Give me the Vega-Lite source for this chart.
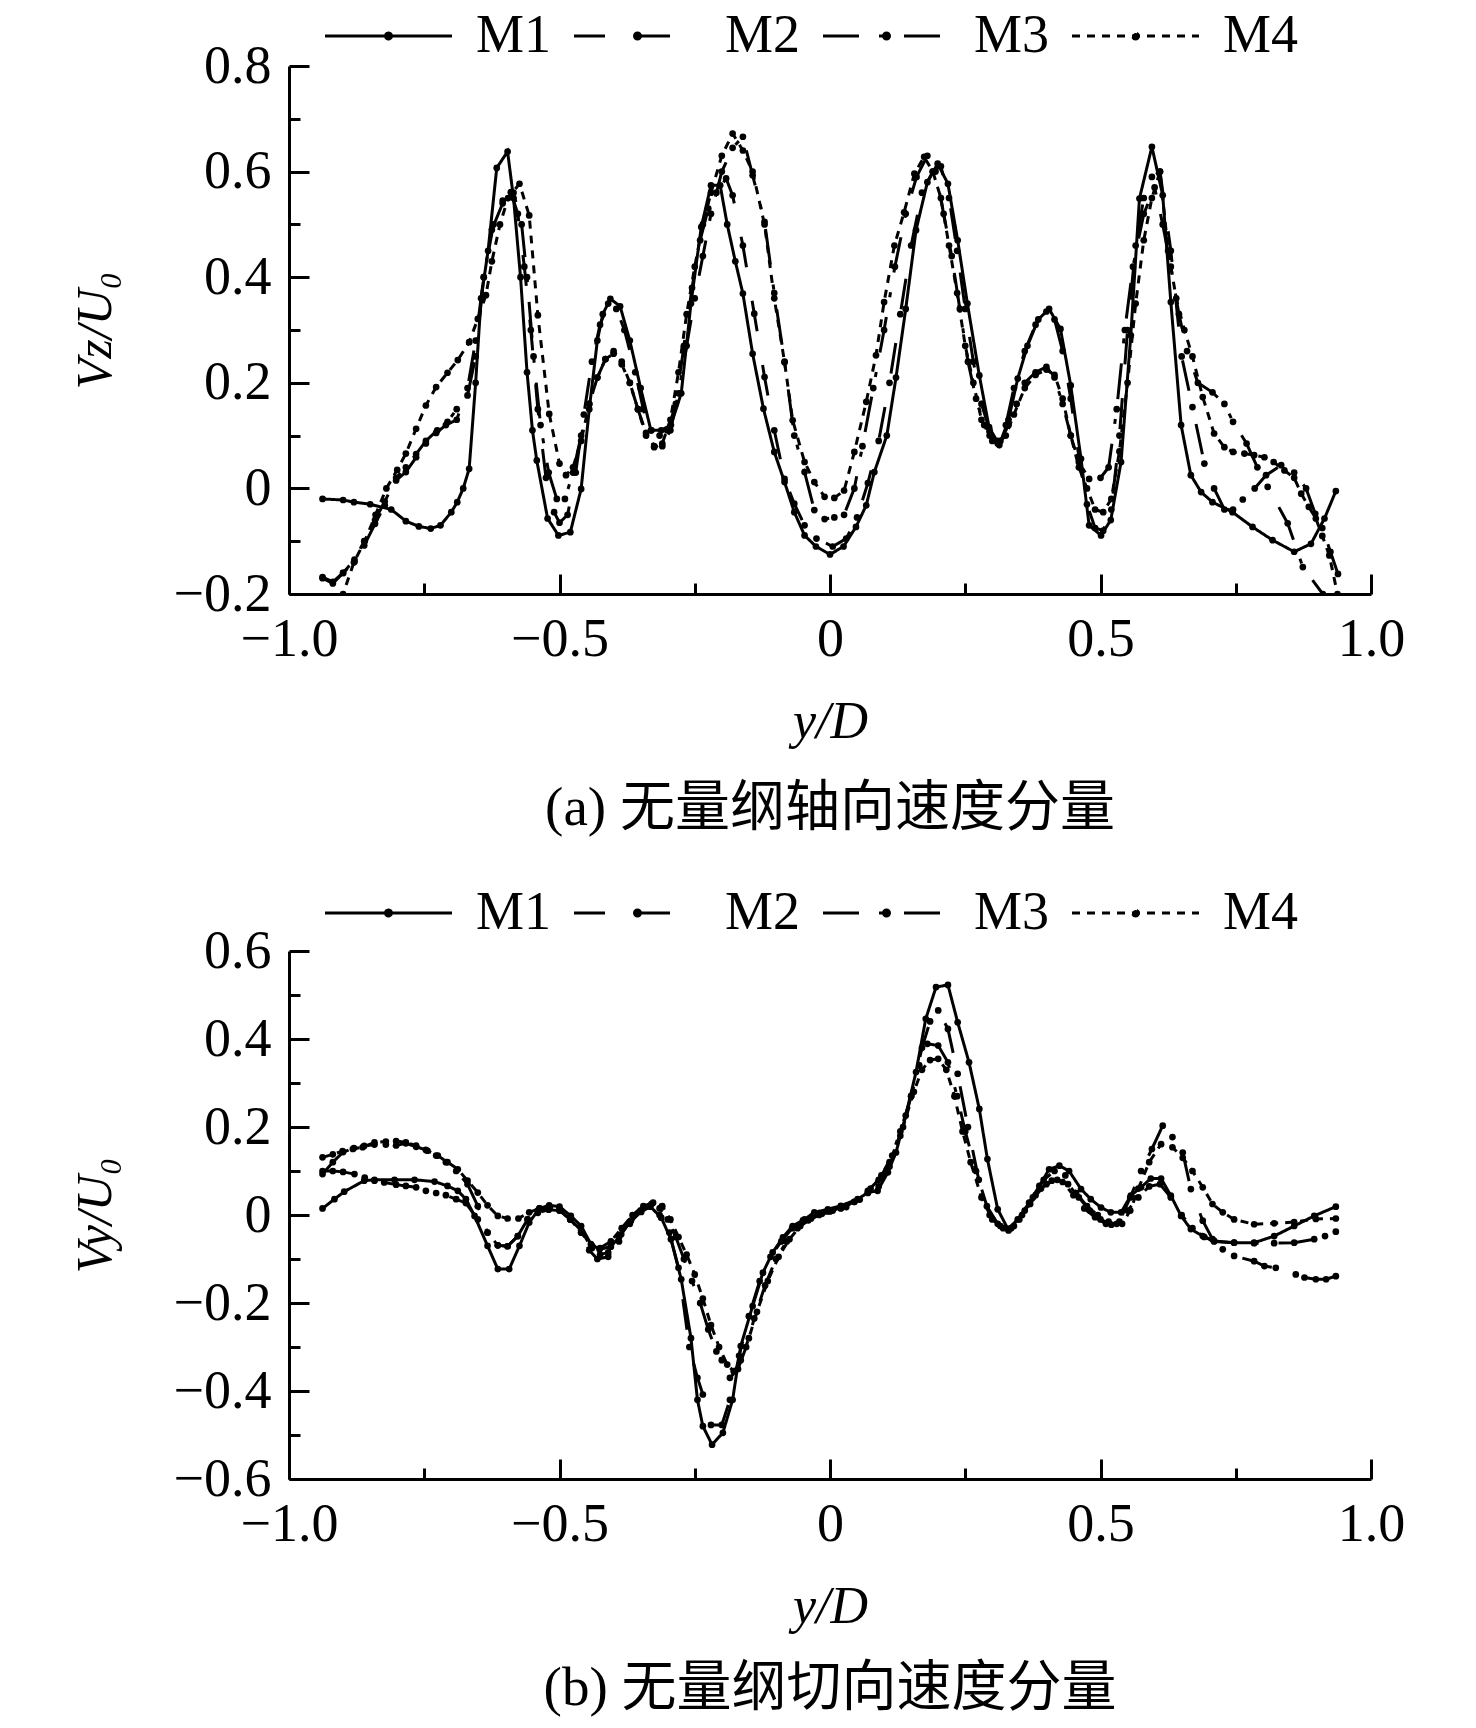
{
"$schema": "https://vega.github.io/schema/vega-lite/v6.json",
"padding": {"left": 70, "top": 9, "right": 10, "bottom": 5},
"background": "white",
"config": {
  "font": "Liberation Serif",
  "view": {"stroke": null},
  "axis": {"domainColor": "black", "domainWidth": 3, "tickColor": "black", "tickWidth": 3, "labelColor": "black", "labelFont": "Liberation Serif", "labelFontSize": 54, "titleFont": "Liberation Serif", "titleFontSize": 52, "titleFontWeight": "normal", "titleFontStyle": "italic", "titleColor": "black", "grid": false, "labelFlush": false, "labelOverlap": false},
  "title": {"font": "Liberation Serif, Noto Sans CJK SC", "fontSize": 55, "fontWeight": "normal", "color": "black"}
},
"datasets": {
"top": [
{"s":"M1","x":-0.938,"y":-0.02},{"s":"M1","x":-0.9,"y":-0.022},{"s":"M1","x":-0.88,"y":-0.026},{"s":"M1","x":-0.85,"y":-0.03},{"s":"M1","x":-0.811,"y":-0.04},{"s":"M1","x":-0.784,"y":-0.062},{"s":"M1","x":-0.76,"y":-0.072},{"s":"M1","x":-0.738,"y":-0.076},{"s":"M1","x":-0.72,"y":-0.07},{"s":"M1","x":-0.7,"y":-0.045},{"s":"M1","x":-0.689,"y":-0.026},{"s":"M1","x":-0.678,"y":0.0},{"s":"M1","x":-0.667,"y":0.037},{"s":"M1","x":-0.655,"y":0.2},{"s":"M1","x":-0.645,"y":0.36},{"s":"M1","x":-0.632,"y":0.45},{"s":"M1","x":-0.616,"y":0.607},{"s":"M1","x":-0.596,"y":0.638},{"s":"M1","x":-0.585,"y":0.55},{"s":"M1","x":-0.572,"y":0.4},{"s":"M1","x":-0.56,"y":0.22},{"s":"M1","x":-0.55,"y":0.11},{"s":"M1","x":-0.542,"y":0.053},{"s":"M1","x":-0.522,"y":-0.057},{"s":"M1","x":-0.502,"y":-0.089},{"s":"M1","x":-0.48,"y":-0.083},{"s":"M1","x":-0.46,"y":-0.001},{"s":"M1","x":-0.445,"y":0.15},{"s":"M1","x":-0.43,"y":0.28},{"s":"M1","x":-0.42,"y":0.33},{"s":"M1","x":-0.406,"y":0.359},{"s":"M1","x":-0.388,"y":0.345},{"s":"M1","x":-0.37,"y":0.28},{"s":"M1","x":-0.35,"y":0.19},{"s":"M1","x":-0.331,"y":0.11},{"s":"M1","x":-0.312,"y":0.11},{"s":"M1","x":-0.294,"y":0.12},{"s":"M1","x":-0.275,"y":0.18},{"s":"M1","x":-0.257,"y":0.35},{"s":"M1","x":-0.238,"y":0.495},{"s":"M1","x":-0.22,"y":0.574},{"s":"M1","x":-0.203,"y":0.574},{"s":"M1","x":-0.19,"y":0.5},{"s":"M1","x":-0.175,"y":0.43},{"s":"M1","x":-0.161,"y":0.369},{"s":"M1","x":-0.143,"y":0.255},{"s":"M1","x":-0.123,"y":0.151},{"s":"M1","x":-0.103,"y":0.069},{"s":"M1","x":-0.084,"y":0.012},{"s":"M1","x":-0.066,"y":-0.045},{"s":"M1","x":-0.047,"y":-0.089},{"s":"M1","x":-0.026,"y":-0.11},{"s":"M1","x":0.0,"y":-0.125},{"s":"M1","x":0.025,"y":-0.11},{"s":"M1","x":0.048,"y":-0.073},{"s":"M1","x":0.067,"y":-0.032},{"s":"M1","x":0.082,"y":0.031},{"s":"M1","x":0.105,"y":0.1},{"s":"M1","x":0.122,"y":0.21},{"s":"M1","x":0.14,"y":0.34},{"s":"M1","x":0.159,"y":0.489},{"s":"M1","x":0.18,"y":0.58},{"s":"M1","x":0.199,"y":0.615},{"s":"M1","x":0.218,"y":0.577},{"s":"M1","x":0.236,"y":0.47},{"s":"M1","x":0.254,"y":0.35},{"s":"M1","x":0.276,"y":0.214},{"s":"M1","x":0.294,"y":0.116},{"s":"M1","x":0.313,"y":0.082},{"s":"M1","x":0.33,"y":0.13},{"s":"M1","x":0.347,"y":0.208},{"s":"M1","x":0.365,"y":0.27},{"s":"M1","x":0.385,"y":0.32},{"s":"M1","x":0.405,"y":0.34},{"s":"M1","x":0.426,"y":0.302},{"s":"M1","x":0.445,"y":0.195},{"s":"M1","x":0.464,"y":0.056},{"s":"M1","x":0.479,"y":-0.07},{"s":"M1","x":0.501,"y":-0.089},{"s":"M1","x":0.519,"y":-0.06},{"s":"M1","x":0.538,"y":0.05},{"s":"M1","x":0.556,"y":0.29},{"s":"M1","x":0.572,"y":0.549},{"s":"M1","x":0.595,"y":0.647},{"s":"M1","x":0.615,"y":0.555},{"s":"M1","x":0.63,"y":0.353},{"s":"M1","x":0.649,"y":0.12},{"s":"M1","x":0.667,"y":0.025},{"s":"M1","x":0.686,"y":-0.007},{"s":"M1","x":0.707,"y":-0.026},{"s":"M1","x":0.744,"y":-0.045},{"s":"M1","x":0.781,"y":-0.073},{"s":"M1","x":0.818,"y":-0.098},{"s":"M1","x":0.858,"y":-0.12},{"s":"M1","x":0.889,"y":-0.105},{"s":"M1","x":0.914,"y":-0.057},{"s":"M1","x":0.935,"y":-0.005},
{"s":"M2","x":-0.938,"y":-0.168},{"s":"M2","x":-0.919,"y":-0.177},{"s":"M2","x":-0.9,"y":-0.16},{"s":"M2","x":-0.879,"y":-0.139},{"s":"M2","x":-0.861,"y":-0.108},{"s":"M2","x":-0.841,"y":-0.067},{"s":"M2","x":-0.823,"y":-0.032},{"s":"M2","x":-0.802,"y":0.015},{"s":"M2","x":-0.784,"y":0.031},{"s":"M2","x":-0.765,"y":0.059},{"s":"M2","x":-0.747,"y":0.085},{"s":"M2","x":-0.728,"y":0.105},{"s":"M2","x":-0.71,"y":0.12},{"s":"M2","x":-0.69,"y":0.13},{"s":"M2","x":-0.67,"y":0.19},{"s":"M2","x":-0.655,"y":0.28},{"s":"M2","x":-0.64,"y":0.4},{"s":"M2","x":-0.622,"y":0.5},{"s":"M2","x":-0.605,"y":0.545},{"s":"M2","x":-0.59,"y":0.561},{"s":"M2","x":-0.577,"y":0.52},{"s":"M2","x":-0.565,"y":0.42},{"s":"M2","x":-0.553,"y":0.3},{"s":"M2","x":-0.54,"y":0.15},{"s":"M2","x":-0.525,"y":0.02},{"s":"M2","x":-0.51,"y":-0.045},{"s":"M2","x":-0.5,"y":-0.065},{"s":"M2","x":-0.485,"y":-0.05},{"s":"M2","x":-0.47,"y":0.03},{"s":"M2","x":-0.455,"y":0.14},{"s":"M2","x":-0.44,"y":0.24},{"s":"M2","x":-0.425,"y":0.31},{"s":"M2","x":-0.41,"y":0.35},{"s":"M2","x":-0.395,"y":0.34},{"s":"M2","x":-0.38,"y":0.3},{"s":"M2","x":-0.36,"y":0.22},{"s":"M2","x":-0.345,"y":0.15},{"s":"M2","x":-0.33,"y":0.11},{"s":"M2","x":-0.315,"y":0.1},{"s":"M2","x":-0.3,"y":0.11},{"s":"M2","x":-0.285,"y":0.16},{"s":"M2","x":-0.27,"y":0.27},{"s":"M2","x":-0.255,"y":0.38},{"s":"M2","x":-0.24,"y":0.47},{"s":"M2","x":-0.225,"y":0.53},{"s":"M2","x":-0.21,"y":0.56},{"s":"M2","x":-0.192,"y":0.587},{"s":"M2","x":-0.18,"y":0.555},{"s":"M2","x":-0.161,"y":0.46},{"s":"M2","x":-0.14,"y":0.331},{"s":"M2","x":-0.121,"y":0.211},{"s":"M2","x":-0.103,"y":0.11},{"s":"M2","x":-0.084,"y":0.018},{"s":"M2","x":-0.066,"y":-0.029},{"s":"M2","x":-0.047,"y":-0.07},{"s":"M2","x":-0.025,"y":-0.095},{"s":"M2","x":0.005,"y":-0.11},{"s":"M2","x":0.03,"y":-0.095},{"s":"M2","x":0.05,"y":-0.055},{"s":"M2","x":0.07,"y":0.01},{"s":"M2","x":0.09,"y":0.09},{"s":"M2","x":0.11,"y":0.2},{"s":"M2","x":0.13,"y":0.33},{"s":"M2","x":0.15,"y":0.46},{"s":"M2","x":0.17,"y":0.56},{"s":"M2","x":0.19,"y":0.6},{"s":"M2","x":0.205,"y":0.61},{"s":"M2","x":0.22,"y":0.55},{"s":"M2","x":0.235,"y":0.45},{"s":"M2","x":0.25,"y":0.34},{"s":"M2","x":0.265,"y":0.24},{"s":"M2","x":0.28,"y":0.16},{"s":"M2","x":0.295,"y":0.11},{"s":"M2","x":0.31,"y":0.09},{"s":"M2","x":0.325,"y":0.12},{"s":"M2","x":0.34,"y":0.19},{"s":"M2","x":0.36,"y":0.26},{"s":"M2","x":0.38,"y":0.31},{"s":"M2","x":0.4,"y":0.335},{"s":"M2","x":0.415,"y":0.32},{"s":"M2","x":0.43,"y":0.26},{"s":"M2","x":0.445,"y":0.17},{"s":"M2","x":0.46,"y":0.06},{"s":"M2","x":0.475,"y":-0.03},{"s":"M2","x":0.49,"y":-0.075},{"s":"M2","x":0.505,"y":-0.08},{"s":"M2","x":0.52,"y":-0.04},{"s":"M2","x":0.535,"y":0.1},{"s":"M2","x":0.55,"y":0.3},{"s":"M2","x":0.565,"y":0.46},{"s":"M2","x":0.58,"y":0.55},{"s":"M2","x":0.595,"y":0.59},{"s":"M2","x":0.61,"y":0.6},{"s":"M2","x":0.63,"y":0.45},{"s":"M2","x":0.65,"y":0.25},{"s":"M2","x":0.67,"y":0.154},{"s":"M2","x":0.692,"y":0.047},{"s":"M2","x":0.71,"y":0.0},{"s":"M2","x":0.729,"y":-0.04},{"s":"M2","x":0.745,"y":-0.04},{"s":"M2","x":0.763,"y":-0.021},{"s":"M2","x":0.785,"y":0.0},{"s":"M2","x":0.806,"y":0.025},{"s":"M2","x":0.834,"y":0.044},{"s":"M2","x":0.858,"y":0.03},{"s":"M2","x":0.88,"y":0.0},{"s":"M2","x":0.897,"y":-0.048},{"s":"M2","x":0.91,"y":-0.075},{"s":"M2","x":0.925,"y":-0.12},{"s":"M2","x":0.939,"y":-0.162},
{"s":"M3","x":-0.938,"y":-0.17},{"s":"M3","x":-0.919,"y":-0.18},{"s":"M3","x":-0.9,"y":-0.16},{"s":"M3","x":-0.879,"y":-0.135},{"s":"M3","x":-0.861,"y":-0.1},{"s":"M3","x":-0.841,"y":-0.06},{"s":"M3","x":-0.823,"y":-0.025},{"s":"M3","x":-0.802,"y":0.02},{"s":"M3","x":-0.784,"y":0.04},{"s":"M3","x":-0.765,"y":0.065},{"s":"M3","x":-0.747,"y":0.09},{"s":"M3","x":-0.726,"y":0.11},{"s":"M3","x":-0.707,"y":0.126},{"s":"M3","x":-0.69,"y":0.15},{"s":"M3","x":-0.67,"y":0.176},{"s":"M3","x":-0.655,"y":0.25},{"s":"M3","x":-0.64,"y":0.4},{"s":"M3","x":-0.625,"y":0.49},{"s":"M3","x":-0.605,"y":0.54},{"s":"M3","x":-0.585,"y":0.56},{"s":"M3","x":-0.57,"y":0.5},{"s":"M3","x":-0.56,"y":0.4},{"s":"M3","x":-0.548,"y":0.25},{"s":"M3","x":-0.535,"y":0.12},{"s":"M3","x":-0.52,"y":0.03},{"s":"M3","x":-0.505,"y":-0.02},{"s":"M3","x":-0.49,"y":-0.02},{"s":"M3","x":-0.475,"y":0.03},{"s":"M3","x":-0.46,"y":0.1},{"s":"M3","x":-0.445,"y":0.16},{"s":"M3","x":-0.43,"y":0.21},{"s":"M3","x":-0.415,"y":0.245},{"s":"M3","x":-0.4,"y":0.255},{"s":"M3","x":-0.385,"y":0.235},{"s":"M3","x":-0.37,"y":0.2},{"s":"M3","x":-0.355,"y":0.15},{"s":"M3","x":-0.34,"y":0.105},{"s":"M3","x":-0.325,"y":0.08},{"s":"M3","x":-0.31,"y":0.08},{"s":"M3","x":-0.295,"y":0.11},{"s":"M3","x":-0.28,"y":0.18},{"s":"M3","x":-0.265,"y":0.27},{"s":"M3","x":-0.25,"y":0.36},{"s":"M3","x":-0.235,"y":0.44},{"s":"M3","x":-0.22,"y":0.52},{"s":"M3","x":-0.2,"y":0.6},{"s":"M3","x":-0.18,"y":0.645},{"s":"M3","x":-0.161,"y":0.666},{"s":"M3","x":-0.143,"y":0.593},{"s":"M3","x":-0.121,"y":0.505},{"s":"M3","x":-0.103,"y":0.37},{"s":"M3","x":-0.084,"y":0.24},{"s":"M3","x":-0.066,"y":0.1},{"s":"M3","x":-0.047,"y":0.031},{"s":"M3","x":-0.029,"y":-0.041},{"s":"M3","x":-0.01,"y":-0.058},{"s":"M3","x":0.008,"y":-0.055},{"s":"M3","x":0.026,"y":-0.05},{"s":"M3","x":0.045,"y":0.0},{"s":"M3","x":0.06,"y":0.08},{"s":"M3","x":0.08,"y":0.19},{"s":"M3","x":0.1,"y":0.3},{"s":"M3","x":0.12,"y":0.42},{"s":"M3","x":0.14,"y":0.52},{"s":"M3","x":0.16,"y":0.59},{"s":"M3","x":0.18,"y":0.63},{"s":"M3","x":0.195,"y":0.6},{"s":"M3","x":0.21,"y":0.52},{"s":"M3","x":0.225,"y":0.44},{"s":"M3","x":0.24,"y":0.34},{"s":"M3","x":0.255,"y":0.24},{"s":"M3","x":0.27,"y":0.17},{"s":"M3","x":0.285,"y":0.12},{"s":"M3","x":0.3,"y":0.09},{"s":"M3","x":0.315,"y":0.09},{"s":"M3","x":0.33,"y":0.12},{"s":"M3","x":0.345,"y":0.16},{"s":"M3","x":0.36,"y":0.2},{"s":"M3","x":0.38,"y":0.22},{"s":"M3","x":0.4,"y":0.23},{"s":"M3","x":0.415,"y":0.21},{"s":"M3","x":0.43,"y":0.16},{"s":"M3","x":0.445,"y":0.1},{"s":"M3","x":0.46,"y":0.05},{"s":"M3","x":0.479,"y":0.018},{"s":"M3","x":0.5,"y":0.02},{"s":"M3","x":0.515,"y":0.04},{"s":"M3","x":0.53,"y":0.15},{"s":"M3","x":0.545,"y":0.3},{"s":"M3","x":0.56,"y":0.42},{"s":"M3","x":0.58,"y":0.52},{"s":"M3","x":0.6,"y":0.57},{"s":"M3","x":0.615,"y":0.5},{"s":"M3","x":0.63,"y":0.42},{"s":"M3","x":0.645,"y":0.33},{"s":"M3","x":0.66,"y":0.26},{"s":"M3","x":0.68,"y":0.2},{"s":"M3","x":0.707,"y":0.182},{"s":"M3","x":0.729,"y":0.16},{"s":"M3","x":0.745,"y":0.126},{"s":"M3","x":0.77,"y":0.085},{"s":"M3","x":0.79,"y":0.04},{"s":"M3","x":0.809,"y":0.003},{"s":"M3","x":0.846,"y":-0.066},{"s":"M3","x":0.874,"y":-0.149},{"s":"M3","x":0.911,"y":-0.2},{"s":"M3","x":0.925,"y":-0.23},
{"s":"M4","x":-0.93,"y":-0.26},{"s":"M4","x":-0.9,"y":-0.2},{"s":"M4","x":-0.88,"y":-0.14},{"s":"M4","x":-0.86,"y":-0.1},{"s":"M4","x":-0.84,"y":-0.05},{"s":"M4","x":-0.82,"y":0.0},{"s":"M4","x":-0.8,"y":0.035},{"s":"M4","x":-0.784,"y":0.066},{"s":"M4","x":-0.765,"y":0.113},{"s":"M4","x":-0.747,"y":0.157},{"s":"M4","x":-0.728,"y":0.192},{"s":"M4","x":-0.707,"y":0.219},{"s":"M4","x":-0.688,"y":0.243},{"s":"M4","x":-0.667,"y":0.277},{"s":"M4","x":-0.651,"y":0.321},{"s":"M4","x":-0.636,"y":0.366},{"s":"M4","x":-0.625,"y":0.43},{"s":"M4","x":-0.61,"y":0.5},{"s":"M4","x":-0.595,"y":0.55},{"s":"M4","x":-0.574,"y":0.577},{"s":"M4","x":-0.556,"y":0.517},{"s":"M4","x":-0.54,"y":0.328},{"s":"M4","x":-0.519,"y":0.141},{"s":"M4","x":-0.5,"y":0.047},{"s":"M4","x":-0.488,"y":0.025},{"s":"M4","x":-0.475,"y":0.04},{"s":"M4","x":-0.46,"y":0.09},{"s":"M4","x":-0.445,"y":0.16},{"s":"M4","x":-0.43,"y":0.21},{"s":"M4","x":-0.415,"y":0.245},{"s":"M4","x":-0.4,"y":0.26},{"s":"M4","x":-0.385,"y":0.24},{"s":"M4","x":-0.37,"y":0.2},{"s":"M4","x":-0.355,"y":0.15},{"s":"M4","x":-0.34,"y":0.1},{"s":"M4","x":-0.325,"y":0.078},{"s":"M4","x":-0.31,"y":0.085},{"s":"M4","x":-0.295,"y":0.13},{"s":"M4","x":-0.28,"y":0.22},{"s":"M4","x":-0.265,"y":0.33},{"s":"M4","x":-0.25,"y":0.42},{"s":"M4","x":-0.235,"y":0.5},{"s":"M4","x":-0.22,"y":0.56},{"s":"M4","x":-0.2,"y":0.63},{"s":"M4","x":-0.18,"y":0.672},{"s":"M4","x":-0.161,"y":0.64},{"s":"M4","x":-0.143,"y":0.6},{"s":"M4","x":-0.121,"y":0.5},{"s":"M4","x":-0.103,"y":0.36},{"s":"M4","x":-0.084,"y":0.239},{"s":"M4","x":-0.069,"y":0.129},{"s":"M4","x":-0.047,"y":0.05},{"s":"M4","x":-0.029,"y":0.012},{"s":"M4","x":-0.01,"y":-0.016},{"s":"M4","x":0.008,"y":-0.018},{"s":"M4","x":0.026,"y":-0.004},{"s":"M4","x":0.045,"y":0.069},{"s":"M4","x":0.067,"y":0.164},{"s":"M4","x":0.085,"y":0.252},{"s":"M4","x":0.1,"y":0.353},{"s":"M4","x":0.119,"y":0.46},{"s":"M4","x":0.137,"y":0.523},{"s":"M4","x":0.156,"y":0.596},{"s":"M4","x":0.174,"y":0.628},{"s":"M4","x":0.19,"y":0.6},{"s":"M4","x":0.205,"y":0.55},{"s":"M4","x":0.22,"y":0.46},{"s":"M4","x":0.235,"y":0.37},{"s":"M4","x":0.25,"y":0.27},{"s":"M4","x":0.265,"y":0.2},{"s":"M4","x":0.28,"y":0.13},{"s":"M4","x":0.295,"y":0.1},{"s":"M4","x":0.31,"y":0.085},{"s":"M4","x":0.325,"y":0.1},{"s":"M4","x":0.34,"y":0.14},{"s":"M4","x":0.36,"y":0.19},{"s":"M4","x":0.38,"y":0.215},{"s":"M4","x":0.4,"y":0.225},{"s":"M4","x":0.415,"y":0.215},{"s":"M4","x":0.43,"y":0.17},{"s":"M4","x":0.445,"y":0.1},{"s":"M4","x":0.46,"y":0.04},{"s":"M4","x":0.475,"y":0.0},{"s":"M4","x":0.49,"y":-0.04},{"s":"M4","x":0.505,"y":-0.045},{"s":"M4","x":0.52,"y":-0.02},{"s":"M4","x":0.535,"y":0.07},{"s":"M4","x":0.55,"y":0.2},{"s":"M4","x":0.565,"y":0.35},{"s":"M4","x":0.58,"y":0.47},{"s":"M4","x":0.595,"y":0.55},{"s":"M4","x":0.61,"y":0.6},{"s":"M4","x":0.625,"y":0.45},{"s":"M4","x":0.64,"y":0.36},{"s":"M4","x":0.655,"y":0.3},{"s":"M4","x":0.67,"y":0.25},{"s":"M4","x":0.689,"y":0.173},{"s":"M4","x":0.71,"y":0.104},{"s":"M4","x":0.729,"y":0.078},{"s":"M4","x":0.745,"y":0.069},{"s":"M4","x":0.766,"y":0.066},{"s":"M4","x":0.784,"y":0.063},{"s":"M4","x":0.803,"y":0.059},{"s":"M4","x":0.82,"y":0.05},{"s":"M4","x":0.84,"y":0.034},{"s":"M4","x":0.858,"y":0.02},{"s":"M4","x":0.871,"y":-0.01},{"s":"M4","x":0.885,"y":-0.035},{"s":"M4","x":0.898,"y":-0.057},{"s":"M4","x":0.91,"y":-0.09},{"s":"M4","x":0.923,"y":-0.127},{"s":"M4","x":0.938,"y":-0.2}
],
"bot": [
{"s":"M1","x":-0.938,"y":0.015},{"s":"M1","x":-0.916,"y":0.036},{"s":"M1","x":-0.898,"y":0.053},{"s":"M1","x":-0.861,"y":0.078},{"s":"M1","x":-0.842,"y":0.08},{"s":"M1","x":-0.805,"y":0.08},{"s":"M1","x":-0.768,"y":0.08},{"s":"M1","x":-0.731,"y":0.076},{"s":"M1","x":-0.707,"y":0.066},{"s":"M1","x":-0.688,"y":0.055},{"s":"M1","x":-0.673,"y":0.036},{"s":"M1","x":-0.657,"y":-0.002},{"s":"M1","x":-0.633,"y":-0.07},{"s":"M1","x":-0.614,"y":-0.123},{"s":"M1","x":-0.593,"y":-0.123},{"s":"M1","x":-0.574,"y":-0.07},{"s":"M1","x":-0.556,"y":-0.017},{"s":"M1","x":-0.537,"y":0.015},{"s":"M1","x":-0.519,"y":0.022},{"s":"M1","x":-0.5,"y":0.019},{"s":"M1","x":-0.479,"y":-0.002},{"s":"M1","x":-0.46,"y":-0.025},{"s":"M1","x":-0.442,"y":-0.066},{"s":"M1","x":-0.426,"y":-0.078},{"s":"M1","x":-0.405,"y":-0.072},{"s":"M1","x":-0.386,"y":-0.044},{"s":"M1","x":-0.368,"y":-0.013},{"s":"M1","x":-0.349,"y":0.007},{"s":"M1","x":-0.332,"y":0.019},{"s":"M1","x":-0.312,"y":-0.006},{"s":"M1","x":-0.294,"y":-0.055},{"s":"M1","x":-0.275,"y":-0.146},{"s":"M1","x":-0.257,"y":-0.28},{"s":"M1","x":-0.245,"y":-0.42},{"s":"M1","x":-0.235,"y":-0.48},{"s":"M1","x":-0.218,"y":-0.522},{"s":"M1","x":-0.198,"y":-0.495},{"s":"M1","x":-0.18,"y":-0.42},{"s":"M1","x":-0.165,"y":-0.298},{"s":"M1","x":-0.143,"y":-0.207},{"s":"M1","x":-0.124,"y":-0.131},{"s":"M1","x":-0.106,"y":-0.085},{"s":"M1","x":-0.087,"y":-0.051},{"s":"M1","x":-0.069,"y":-0.025},{"s":"M1","x":-0.047,"y":-0.01},{"s":"M1","x":-0.029,"y":0.006},{"s":"M1","x":-0.004,"y":0.013},{"s":"M1","x":0.02,"y":0.021},{"s":"M1","x":0.051,"y":0.036},{"s":"M1","x":0.07,"y":0.051},{"s":"M1","x":0.088,"y":0.055},{"s":"M1","x":0.107,"y":0.097},{"s":"M1","x":0.122,"y":0.142},{"s":"M1","x":0.14,"y":0.226},{"s":"M1","x":0.159,"y":0.325},{"s":"M1","x":0.177,"y":0.446},{"s":"M1","x":0.196,"y":0.518},{"s":"M1","x":0.218,"y":0.523},{"s":"M1","x":0.236,"y":0.438},{"s":"M1","x":0.257,"y":0.347},{"s":"M1","x":0.276,"y":0.241},{"s":"M1","x":0.291,"y":0.127},{"s":"M1","x":0.31,"y":0.013},{"s":"M1","x":0.329,"y":-0.032},{"s":"M1","x":0.347,"y":-0.01},{"s":"M1","x":0.368,"y":0.028},{"s":"M1","x":0.387,"y":0.066},{"s":"M1","x":0.405,"y":0.104},{"s":"M1","x":0.424,"y":0.112},{"s":"M1","x":0.442,"y":0.1},{"s":"M1","x":0.464,"y":0.059},{"s":"M1","x":0.482,"y":0.036},{"s":"M1","x":0.501,"y":0.017},{"s":"M1","x":0.519,"y":0.006},{"s":"M1","x":0.538,"y":0.006},{"s":"M1","x":0.556,"y":0.044},{"s":"M1","x":0.575,"y":0.063},{"s":"M1","x":0.593,"y":0.083},{"s":"M1","x":0.612,"y":0.083},{"s":"M1","x":0.63,"y":0.044},{"s":"M1","x":0.649,"y":-0.002},{"s":"M1","x":0.667,"y":-0.032},{"s":"M1","x":0.689,"y":-0.048},{"s":"M1","x":0.71,"y":-0.059},{"s":"M1","x":0.747,"y":-0.063},{"s":"M1","x":0.784,"y":-0.063},{"s":"M1","x":0.821,"y":-0.048},{"s":"M1","x":0.858,"y":-0.025},{"s":"M1","x":0.895,"y":-0.002},{"s":"M1","x":0.935,"y":0.019},
{"s":"M2","x":-0.938,"y":0.1},{"s":"M2","x":-0.919,"y":0.1},{"s":"M2","x":-0.9,"y":0.098},{"s":"M2","x":-0.879,"y":0.093},{"s":"M2","x":-0.86,"y":0.085},{"s":"M2","x":-0.842,"y":0.078},{"s":"M2","x":-0.824,"y":0.074},{"s":"M2","x":-0.802,"y":0.069},{"s":"M2","x":-0.784,"y":0.066},{"s":"M2","x":-0.765,"y":0.063},{"s":"M2","x":-0.747,"y":0.055},{"s":"M2","x":-0.728,"y":0.05},{"s":"M2","x":-0.71,"y":0.045},{"s":"M2","x":-0.691,"y":0.036},{"s":"M2","x":-0.673,"y":0.027},{"s":"M2","x":-0.651,"y":-0.01},{"s":"M2","x":-0.633,"y":-0.04},{"s":"M2","x":-0.614,"y":-0.069},{"s":"M2","x":-0.596,"y":-0.071},{"s":"M2","x":-0.577,"y":-0.048},{"s":"M2","x":-0.559,"y":-0.01},{"s":"M2","x":-0.54,"y":0.005},{"s":"M2","x":-0.52,"y":0.012},{"s":"M2","x":-0.5,"y":0.01},{"s":"M2","x":-0.48,"y":-0.01},{"s":"M2","x":-0.46,"y":-0.04},{"s":"M2","x":-0.445,"y":-0.08},{"s":"M2","x":-0.43,"y":-0.1},{"s":"M2","x":-0.41,"y":-0.095},{"s":"M2","x":-0.39,"y":-0.06},{"s":"M2","x":-0.37,"y":-0.02},{"s":"M2","x":-0.35,"y":0.01},{"s":"M2","x":-0.333,"y":0.02},{"s":"M2","x":-0.315,"y":0.0},{"s":"M2","x":-0.297,"y":-0.04},{"s":"M2","x":-0.28,"y":-0.12},{"s":"M2","x":-0.26,"y":-0.3},{"s":"M2","x":-0.245,"y":-0.37},{"s":"M2","x":-0.235,"y":-0.408},{"s":"M2","x":-0.22,"y":-0.477},{"s":"M2","x":-0.2,"y":-0.477},{"s":"M2","x":-0.185,"y":-0.42},{"s":"M2","x":-0.168,"y":-0.32},{"s":"M2","x":-0.15,"y":-0.23},{"s":"M2","x":-0.13,"y":-0.15},{"s":"M2","x":-0.11,"y":-0.095},{"s":"M2","x":-0.09,"y":-0.06},{"s":"M2","x":-0.07,"y":-0.03},{"s":"M2","x":-0.05,"y":-0.012},{"s":"M2","x":-0.03,"y":0.0},{"s":"M2","x":-0.005,"y":0.008},{"s":"M2","x":0.02,"y":0.016},{"s":"M2","x":0.045,"y":0.03},{"s":"M2","x":0.07,"y":0.05},{"s":"M2","x":0.09,"y":0.065},{"s":"M2","x":0.11,"y":0.11},{"s":"M2","x":0.13,"y":0.18},{"s":"M2","x":0.15,"y":0.27},{"s":"M2","x":0.17,"y":0.38},{"s":"M2","x":0.185,"y":0.44},{"s":"M2","x":0.2,"y":0.465},{"s":"M2","x":0.218,"y":0.423},{"s":"M2","x":0.236,"y":0.321},{"s":"M2","x":0.255,"y":0.2},{"s":"M2","x":0.275,"y":0.08},{"s":"M2","x":0.295,"y":0.0},{"s":"M2","x":0.315,"y":-0.025},{"s":"M2","x":0.335,"y":-0.03},{"s":"M2","x":0.355,"y":0.0},{"s":"M2","x":0.375,"y":0.04},{"s":"M2","x":0.395,"y":0.08},{"s":"M2","x":0.415,"y":0.1},{"s":"M2","x":0.435,"y":0.09},{"s":"M2","x":0.455,"y":0.05},{"s":"M2","x":0.475,"y":0.02},{"s":"M2","x":0.495,"y":0.0},{"s":"M2","x":0.515,"y":-0.015},{"s":"M2","x":0.535,"y":-0.015},{"s":"M2","x":0.555,"y":0.04},{"s":"M2","x":0.575,"y":0.1},{"s":"M2","x":0.595,"y":0.15},{"s":"M2","x":0.615,"y":0.203},{"s":"M2","x":0.633,"y":0.177},{"s":"M2","x":0.652,"y":0.142},{"s":"M2","x":0.667,"y":0.059},{"s":"M2","x":0.689,"y":-0.013},{"s":"M2","x":0.707,"y":-0.055},{"s":"M2","x":0.726,"y":-0.078},{"s":"M2","x":0.747,"y":-0.093},{"s":"M2","x":0.784,"y":-0.105},{"s":"M2","x":0.803,"y":-0.116},{"s":"M2","x":0.824,"y":-0.12},{"s":"M2","x":0.861,"y":-0.135},{"s":"M2","x":0.877,"y":-0.142},{"s":"M2","x":0.898,"y":-0.146},{"s":"M2","x":0.917,"y":-0.146},{"s":"M2","x":0.935,"y":-0.139},
{"s":"M3","x":-0.938,"y":0.093},{"s":"M3","x":-0.919,"y":0.12},{"s":"M3","x":-0.9,"y":0.143},{"s":"M3","x":-0.88,"y":0.152},{"s":"M3","x":-0.861,"y":0.157},{"s":"M3","x":-0.842,"y":0.16},{"s":"M3","x":-0.821,"y":0.16},{"s":"M3","x":-0.802,"y":0.158},{"s":"M3","x":-0.784,"y":0.163},{"s":"M3","x":-0.765,"y":0.155},{"s":"M3","x":-0.747,"y":0.148},{"s":"M3","x":-0.728,"y":0.135},{"s":"M3","x":-0.71,"y":0.12},{"s":"M3","x":-0.691,"y":0.1},{"s":"M3","x":-0.67,"y":0.07},{"s":"M3","x":-0.651,"y":0.02},{"s":"M3","x":-0.633,"y":-0.04},{"s":"M3","x":-0.614,"y":-0.069},{"s":"M3","x":-0.596,"y":-0.071},{"s":"M3","x":-0.577,"y":-0.048},{"s":"M3","x":-0.559,"y":-0.01},{"s":"M3","x":-0.54,"y":0.01},{"s":"M3","x":-0.52,"y":0.015},{"s":"M3","x":-0.5,"y":0.01},{"s":"M3","x":-0.48,"y":-0.01},{"s":"M3","x":-0.46,"y":-0.035},{"s":"M3","x":-0.44,"y":-0.075},{"s":"M3","x":-0.425,"y":-0.09},{"s":"M3","x":-0.41,"y":-0.085},{"s":"M3","x":-0.39,"y":-0.05},{"s":"M3","x":-0.37,"y":-0.015},{"s":"M3","x":-0.35,"y":0.01},{"s":"M3","x":-0.33,"y":0.025},{"s":"M3","x":-0.315,"y":0.015},{"s":"M3","x":-0.3,"y":-0.01},{"s":"M3","x":-0.285,"y":-0.05},{"s":"M3","x":-0.27,"y":-0.1},{"s":"M3","x":-0.255,"y":-0.15},{"s":"M3","x":-0.24,"y":-0.2},{"s":"M3","x":-0.225,"y":-0.26},{"s":"M3","x":-0.21,"y":-0.31},{"s":"M3","x":-0.2,"y":-0.33},{"s":"M3","x":-0.185,"y":-0.37},{"s":"M3","x":-0.17,"y":-0.35},{"s":"M3","x":-0.155,"y":-0.3},{"s":"M3","x":-0.14,"y":-0.235},{"s":"M3","x":-0.12,"y":-0.16},{"s":"M3","x":-0.1,"y":-0.1},{"s":"M3","x":-0.08,"y":-0.06},{"s":"M3","x":-0.06,"y":-0.03},{"s":"M3","x":-0.04,"y":-0.012},{"s":"M3","x":-0.02,"y":0.0},{"s":"M3","x":0.0,"y":0.008},{"s":"M3","x":0.02,"y":0.015},{"s":"M3","x":0.045,"y":0.03},{"s":"M3","x":0.07,"y":0.055},{"s":"M3","x":0.09,"y":0.08},{"s":"M3","x":0.11,"y":0.12},{"s":"M3","x":0.13,"y":0.19},{"s":"M3","x":0.15,"y":0.27},{"s":"M3","x":0.165,"y":0.34},{"s":"M3","x":0.18,"y":0.389},{"s":"M3","x":0.2,"y":0.385},{"s":"M3","x":0.218,"y":0.347},{"s":"M3","x":0.235,"y":0.27},{"s":"M3","x":0.25,"y":0.19},{"s":"M3","x":0.27,"y":0.1},{"s":"M3","x":0.29,"y":0.02},{"s":"M3","x":0.31,"y":-0.02},{"s":"M3","x":0.33,"y":-0.035},{"s":"M3","x":0.35,"y":-0.01},{"s":"M3","x":0.37,"y":0.025},{"s":"M3","x":0.39,"y":0.06},{"s":"M3","x":0.41,"y":0.078},{"s":"M3","x":0.43,"y":0.075},{"s":"M3","x":0.45,"y":0.045},{"s":"M3","x":0.47,"y":0.015},{"s":"M3","x":0.49,"y":-0.005},{"s":"M3","x":0.51,"y":-0.02},{"s":"M3","x":0.53,"y":-0.02},{"s":"M3","x":0.55,"y":0.01},{"s":"M3","x":0.57,"y":0.04},{"s":"M3","x":0.59,"y":0.065},{"s":"M3","x":0.61,"y":0.07},{"s":"M3","x":0.63,"y":0.04},{"s":"M3","x":0.65,"y":0.0},{"s":"M3","x":0.67,"y":-0.03},{"s":"M3","x":0.692,"y":-0.05},{"s":"M3","x":0.71,"y":-0.06},{"s":"M3","x":0.747,"y":-0.063},{"s":"M3","x":0.784,"y":-0.064},{"s":"M3","x":0.821,"y":-0.064},{"s":"M3","x":0.858,"y":-0.063},{"s":"M3","x":0.895,"y":-0.055},{"s":"M3","x":0.915,"y":-0.048},{"s":"M3","x":0.935,"y":-0.038},
{"s":"M4","x":-0.938,"y":0.131},{"s":"M4","x":-0.919,"y":0.138},{"s":"M4","x":-0.901,"y":0.145},{"s":"M4","x":-0.882,"y":0.15},{"s":"M4","x":-0.864,"y":0.154},{"s":"M4","x":-0.842,"y":0.165},{"s":"M4","x":-0.821,"y":0.167},{"s":"M4","x":-0.802,"y":0.168},{"s":"M4","x":-0.784,"y":0.165},{"s":"M4","x":-0.765,"y":0.158},{"s":"M4","x":-0.744,"y":0.146},{"s":"M4","x":-0.725,"y":0.135},{"s":"M4","x":-0.707,"y":0.12},{"s":"M4","x":-0.688,"y":0.104},{"s":"M4","x":-0.67,"y":0.078},{"s":"M4","x":-0.651,"y":0.051},{"s":"M4","x":-0.633,"y":0.022},{"s":"M4","x":-0.614,"y":-0.002},{"s":"M4","x":-0.596,"y":-0.008},{"s":"M4","x":-0.576,"y":-0.008},{"s":"M4","x":-0.556,"y":0.006},{"s":"M4","x":-0.537,"y":0.015},{"s":"M4","x":-0.518,"y":0.017},{"s":"M4","x":-0.5,"y":0.012},{"s":"M4","x":-0.48,"y":-0.01},{"s":"M4","x":-0.46,"y":-0.04},{"s":"M4","x":-0.44,"y":-0.07},{"s":"M4","x":-0.425,"y":-0.075},{"s":"M4","x":-0.405,"y":-0.06},{"s":"M4","x":-0.385,"y":-0.03},{"s":"M4","x":-0.365,"y":0.0},{"s":"M4","x":-0.345,"y":0.02},{"s":"M4","x":-0.327,"y":0.028},{"s":"M4","x":-0.31,"y":0.02},{"s":"M4","x":-0.295,"y":-0.01},{"s":"M4","x":-0.28,"y":-0.05},{"s":"M4","x":-0.265,"y":-0.09},{"s":"M4","x":-0.25,"y":-0.135},{"s":"M4","x":-0.235,"y":-0.19},{"s":"M4","x":-0.22,"y":-0.25},{"s":"M4","x":-0.205,"y":-0.3},{"s":"M4","x":-0.19,"y":-0.34},{"s":"M4","x":-0.178,"y":-0.355},{"s":"M4","x":-0.165,"y":-0.33},{"s":"M4","x":-0.15,"y":-0.28},{"s":"M4","x":-0.135,"y":-0.22},{"s":"M4","x":-0.115,"y":-0.15},{"s":"M4","x":-0.095,"y":-0.095},{"s":"M4","x":-0.075,"y":-0.055},{"s":"M4","x":-0.055,"y":-0.025},{"s":"M4","x":-0.035,"y":-0.008},{"s":"M4","x":-0.015,"y":0.003},{"s":"M4","x":0.005,"y":0.01},{"s":"M4","x":0.03,"y":0.018},{"s":"M4","x":0.055,"y":0.035},{"s":"M4","x":0.075,"y":0.06},{"s":"M4","x":0.095,"y":0.09},{"s":"M4","x":0.115,"y":0.135},{"s":"M4","x":0.135,"y":0.2},{"s":"M4","x":0.155,"y":0.28},{"s":"M4","x":0.17,"y":0.33},{"s":"M4","x":0.185,"y":0.352},{"s":"M4","x":0.2,"y":0.355},{"s":"M4","x":0.215,"y":0.33},{"s":"M4","x":0.23,"y":0.27},{"s":"M4","x":0.245,"y":0.19},{"s":"M4","x":0.26,"y":0.12},{"s":"M4","x":0.28,"y":0.04},{"s":"M4","x":0.3,"y":-0.01},{"s":"M4","x":0.32,"y":-0.03},{"s":"M4","x":0.34,"y":-0.025},{"s":"M4","x":0.36,"y":0.01},{"s":"M4","x":0.38,"y":0.045},{"s":"M4","x":0.4,"y":0.07},{"s":"M4","x":0.42,"y":0.08},{"s":"M4","x":0.44,"y":0.07},{"s":"M4","x":0.46,"y":0.04},{"s":"M4","x":0.48,"y":0.01},{"s":"M4","x":0.5,"y":-0.01},{"s":"M4","x":0.52,"y":-0.022},{"s":"M4","x":0.54,"y":-0.02},{"s":"M4","x":0.555,"y":0.01},{"s":"M4","x":0.57,"y":0.06},{"s":"M4","x":0.59,"y":0.12},{"s":"M4","x":0.612,"y":0.161},{"s":"M4","x":0.633,"y":0.154},{"s":"M4","x":0.652,"y":0.13},{"s":"M4","x":0.67,"y":0.1},{"s":"M4","x":0.689,"y":0.063},{"s":"M4","x":0.707,"y":0.025},{"s":"M4","x":0.726,"y":0.006},{"s":"M4","x":0.747,"y":-0.01},{"s":"M4","x":0.784,"y":-0.021},{"s":"M4","x":0.821,"y":-0.019},{"s":"M4","x":0.858,"y":-0.016},{"s":"M4","x":0.898,"y":-0.009},{"s":"M4","x":0.935,"y":-0.008}
]
},
"spacing": 50,
"resolve": {"scale": {"x": "independent", "y": "independent", "strokeDash": "independent"}, "legend": {"strokeDash": "independent"}},
"vconcat": [
{
  "width": 1082, "height": 528,
  "data": {"name": "top"},
  "title": {"text": "(a) 无量纲轴向速度分量", "orient": "bottom", "anchor": "middle", "offset": 35},
  "layer": [
    {"mark": {"type": "line", "clip": true, "strokeWidth": 3, "color": "black"},
     "encoding": {
       "x": {"field": "x", "type": "quantitative", "scale": {"domain": [-1, 1], "nice": false, "zero": false},
             "axis": {"orient": "bottom", "values": [-1, -0.5, 0, 0.5, 1], "tickSize": -20, "labelPadding": 38, "title": "y/D", "titlePadding": 30, "labelExpr": "datum.value === 0 ? '0' : format(datum.value, '.1f')"}},
       "y": {"field": "y", "type": "quantitative", "scale": {"domain": [-0.2, 0.8], "nice": false, "zero": false},
             "axis": {"orient": "left", "values": [-0.2, 0, 0.2, 0.4, 0.6, 0.8], "tickSize": -20, "labelPadding": 38, "title": "Vz/U₀", "titleFontSize": 50, "titlePadding": 53, "labelExpr": "datum.value === 0 ? '0' : format(datum.value, '.1f')"}},
       "strokeDash": {"field": "s", "type": "nominal",
             "scale": {"domain": ["M1", "M2", "M3", "M4"], "range": [[1, 0], [31, 34], [36, 20, 5, 20], [8, 7]]},
             "legend": {"orient": "none", "legendX": 19, "legendY": -57, "direction": "horizontal", "title": null,
                        "symbolType": "M-1,0L11.7,0M5.65,0A0.3,0.3,0,1,1,5.05,0A0.3,0.3,0,1,1,5.65,0Z",
                        "symbolSize": 400, "symbolStrokeWidth": 3, "symbolStrokeColor": "black", "symbolFillColor": "black",
                        "labelFontSize": 54, "labelFont": "Liberation Serif", "labelColor": "black", "labelOffset": 114, "columnPadding": 5,
                        "encode": {"symbols": {"update": {"fill": {"value": "black"}, "stroke": {"value": "black"}, "strokeWidth": {"value": 3}}}}}}
     }},
    {"mark": {"type": "point", "filled": true, "clip": true, "size": 45, "color": "black", "opacity": 1},
     "encoding": {
       "x": {"field": "x", "type": "quantitative", "scale": {"domain": [-1, 1], "nice": false, "zero": false},
             "axis": {"orient": "bottom", "values": [-0.75, -0.25, 0.25, 0.75], "tickSize": -11, "labels": false, "domain": false, "title": null}},
       "y": {"field": "y", "type": "quantitative", "scale": {"domain": [-0.2, 0.8], "nice": false, "zero": false},
             "axis": {"orient": "left", "values": [-0.1, 0.1, 0.3, 0.5, 0.7], "tickSize": -11, "labels": false, "domain": false, "title": null}}
     }}
  ],
  "resolve": {"axis": {"x": "independent", "y": "independent"}}
},
{
  "width": 1082, "height": 528,
  "data": {"name": "bot"},
  "title": {"text": "(b) 无量纲切向速度分量", "orient": "bottom", "anchor": "middle", "offset": 30},
  "layer": [
    {"mark": {"type": "line", "clip": true, "strokeWidth": 3, "color": "black"},
     "encoding": {
       "x": {"field": "x", "type": "quantitative", "scale": {"domain": [-1, 1], "nice": false, "zero": false},
             "axis": {"orient": "bottom", "values": [-1, -0.5, 0, 0.5, 1], "tickSize": -20, "labelPadding": 38, "title": "y/D", "titlePadding": 30, "labelExpr": "datum.value === 0 ? '0' : format(datum.value, '.1f')"}},
       "y": {"field": "y", "type": "quantitative", "scale": {"domain": [-0.6, 0.6], "nice": false, "zero": false},
             "axis": {"orient": "left", "values": [-0.6, -0.4, -0.2, 0, 0.2, 0.4, 0.6], "tickSize": -20, "labelPadding": 38, "title": "Vy/U₀", "titleFontSize": 50, "titlePadding": 53, "labelExpr": "datum.value === 0 ? '0' : format(datum.value, '.1f')"}},
       "strokeDash": {"field": "s", "type": "nominal",
             "scale": {"domain": ["M1", "M2", "M3", "M4"], "range": [[1, 0], [31, 34], [36, 20, 5, 20], [8, 7]]},
             "legend": {"orient": "none", "legendX": 19, "legendY": -65, "direction": "horizontal", "title": null,
                        "symbolType": "M-1,0L11.7,0M5.65,0A0.3,0.3,0,1,1,5.05,0A0.3,0.3,0,1,1,5.65,0Z",
                        "symbolSize": 400, "symbolStrokeWidth": 3, "symbolStrokeColor": "black", "symbolFillColor": "black",
                        "labelFontSize": 54, "labelFont": "Liberation Serif", "labelColor": "black", "labelOffset": 114, "columnPadding": 5,
                        "encode": {"symbols": {"update": {"fill": {"value": "black"}, "stroke": {"value": "black"}, "strokeWidth": {"value": 3}}}}}}
     }},
    {"mark": {"type": "point", "filled": true, "clip": true, "size": 45, "color": "black", "opacity": 1},
     "encoding": {
       "x": {"field": "x", "type": "quantitative", "scale": {"domain": [-1, 1], "nice": false, "zero": false},
             "axis": {"orient": "bottom", "values": [-0.75, -0.25, 0.25, 0.75], "tickSize": -11, "labels": false, "domain": false, "title": null}},
       "y": {"field": "y", "type": "quantitative", "scale": {"domain": [-0.6, 0.6], "nice": false, "zero": false},
             "axis": {"orient": "left", "values": [-0.5, -0.3, -0.1, 0.1, 0.3, 0.5], "tickSize": -11, "labels": false, "domain": false, "title": null}}
     }}
  ],
  "resolve": {"axis": {"x": "independent", "y": "independent"}}
}
]
}
